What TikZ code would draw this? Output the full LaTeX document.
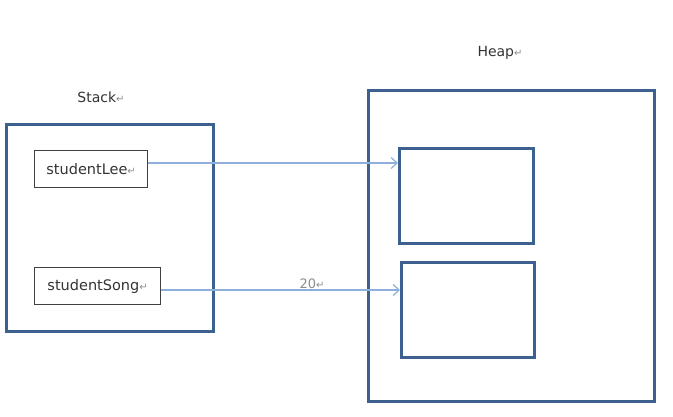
\documentclass[tikz,border=0pt]{standalone}
\usepackage{fontspec}
\setmainfont{DejaVu Sans}
\usetikzlibrary{arrows.meta}
\definecolor{frame}{HTML}{3C6190}
\definecolor{link}{HTML}{8DB0DB}
\definecolor{varline}{HTML}{404040}
\tikzset{
  region/.style={draw=frame, line width=3pt, anchor=north west, inner sep=0pt},
  varbox/.style={draw=varline, line width=1.2pt, anchor=north west, inner sep=0pt, font=\fontsize{14.5}{16}\selectfont, text=black!80},
  label/.style={font=\fontsize{14}{16}\selectfont, text=black!80, inner sep=0pt},
  ref/.style={draw=link, line width=1.2pt, -{Straight Barb[length=6pt,width=11pt,line width=1.2pt]}}
}
\newcommand{\pmark}{{\fontsize{10}{10}\selectfont\textcolor{black!45}{↵}}}
\begin{document}
\begin{tikzpicture}[x=1pt,y=-1pt]
\useasboundingbox (0,0) rectangle (673,417);
\node[region, minimum width=207pt, minimum height=207pt] (stack) at (5,123) {};
\node[region, minimum width=286pt, minimum height=311pt] (heap) at (367,89) {};
\node[region, minimum width=134pt, minimum height=95pt] (obj1) at (398,147) {};
\node[region, minimum width=133pt, minimum height=95pt] (obj2) at (400,261) {};
\node[varbox, minimum width=113pt, minimum height=37pt] (lee) at (34,150) {studentLee\pmark};
\node[varbox, minimum width=126pt, minimum height=37pt] (song) at (34,267) {studentSong\pmark};
\node[label] (stacklbl) at (101,97) {Stack\pmark};
\node[label] (heaplbl) at (500,53) {Heap\pmark};
\node[label, text=black!45, font=\fontsize{13}{14}\selectfont] (twenty) at (312,284) {20\pmark};
\coordinate (t1) at (obj1.west |- 0,163);
\coordinate (t2) at (obj2.west |- 0,290);
\draw[ref] (lee.east |- t1) -- (t1);
\draw[ref] (song.east |- t2) -- (t2);
\end{tikzpicture}
\end{document}
